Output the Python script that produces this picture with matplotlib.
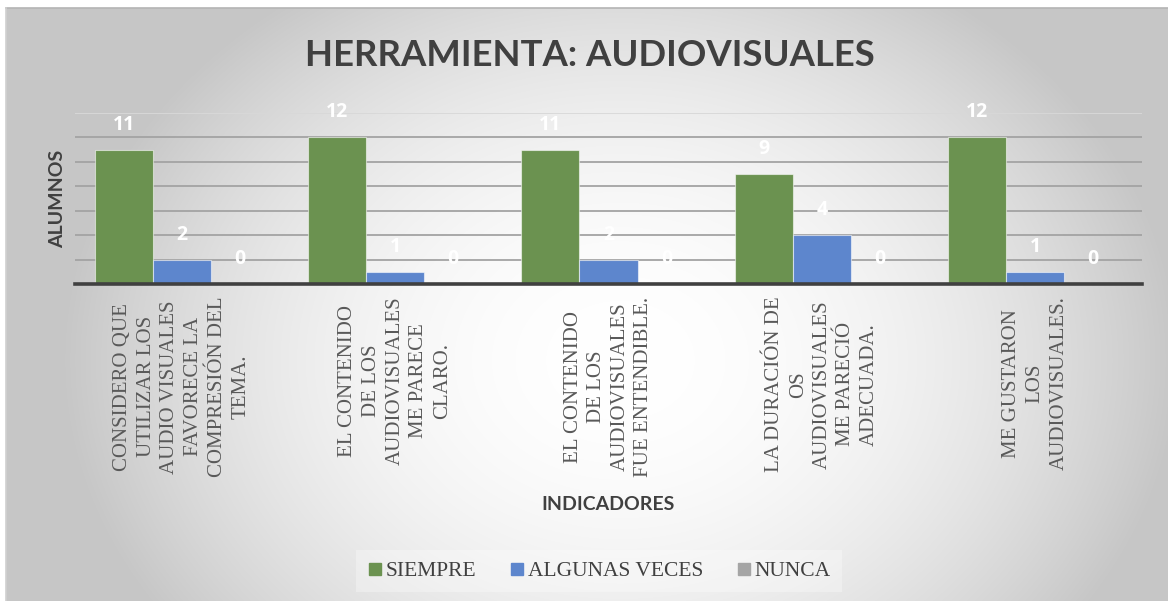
import numpy as np
import matplotlib
matplotlib.use("Agg")
import matplotlib.pyplot as plt
from matplotlib.lines import Line2D

# ---- data ----
categories = [
    "CONSIDERO QUE\nUTILIZAR LOS\nAUDIO VISUALES\nFAVORECE LA\nCOMPRESIÓN DEL\nTEMA.",
    "EL CONTENIDO\nDE LOS\nAUDIOVISUALES\nME PARECE\nCLARO.",
    "EL CONTENIDO\nDE LOS\nAUDIOVISUALES\nFUE ENTENDIBLE.",
    "LA DURACIÓN DE\nOS\nAUDIOVISUALES\nME PARECIÓ\nADECUADA.",
    "ME GUSTARON\nLOS\nAUDIOVISUALES.",
]
series_names = ["SIEMPRE", "ALGUNAS VECES", "NUNCA"]
siempre = [11, 12, 11, 9, 12]
algunas_veces = [2, 1, 2, 4, 1]
nunca = [0, 0, 0, 0, 0]
series_values = [siempre, algunas_veces, nunca]
colors = ["#6b9250", "#5d86cd", "#a5a5a5"]
title = "HERRAMIENTA: AUDIOVISUALES"
y_label = "ALUMNOS"
x_label = "INDICADORES"

W, H = 1168, 601
fig = plt.figure(figsize=(W / 100, H / 100), dpi=100)
fig.patch.set_facecolor("white")

# background gradient
bg = fig.add_axes([6 / W, 0, 1 - 6 / W, 1 - 8 / H], zorder=-10)
gx = np.arange(6, W)
gy = np.arange(8, H)
X, Y = np.meshgrid(gx, gy)
r = np.sqrt(((X - 620) / 560.0) ** 2 + ((Y - 360) / 450.0) ** 2)
r = np.clip(r, 0, 1)
val = (255 - 57 * r ** 2) / 255.0
img = np.dstack([val, val, val])
bg.imshow(img, aspect="auto", extent=[0, 1, 0, 1], interpolation="bilinear")
bg.set_axis_off()
bg.plot([0, 1], [1, 1], color="#b4b4b4", lw=1.2, transform=bg.transAxes, clip_on=False)
bg.plot([0, 0], [0, 1], color="#d0d0d0", lw=1.2, transform=bg.transAxes, clip_on=False)

# main axes
left, right = 75 / W, 1142 / W
bottom, top = 1 - 284 / H, 1 - 113 / H
ax = fig.add_axes([left, bottom, right - left, top - bottom])
ax.set_facecolor("none")

x = np.arange(len(categories))
bw = 0.272
offsets = [-bw, 0, bw]
for vals, off, c, name in zip(series_values, offsets, colors, series_names):
    bars = ax.bar(x + off, vals, width=bw, color=c, edgecolor=(1, 1, 1, 0.55),
                  linewidth=0.8, zorder=3, label=name)
    for b, v in zip(bars, vals):
        ax.annotate(str(v), (b.get_x() + b.get_width() / 2, v),
                    xytext=(0, 18), textcoords="offset points",
                    ha="center", va="center", color="white",
                    fontsize=14, fontweight="bold", family="Open Sans", zorder=5)

ax.set_xlim(-0.5, len(categories) - 0.5)
ax.set_ylim(0, 14)
ax.set_yticks(np.arange(0, 15, 2))
ax.yaxis.grid(True, color="#a3a3a3", linewidth=1.3, zorder=0)
gl = ax.yaxis.get_gridlines()
gl[-1].set_color("#d8d8d8")
ax.tick_params(axis="y", length=0, labelleft=False)
for s in ["top", "right", "left"]:
    ax.spines[s].set_visible(False)
ax.spines["bottom"].set_color("#404040")
ax.spines["bottom"].set_linewidth(2.6)
ax.spines["bottom"].set_zorder(4)

ax.set_xticks(x)
ax.set_xticklabels(categories, rotation=90, fontsize=15, family="Liberation Serif",
                   color="#595959", linespacing=1.33)
for lbl in ax.get_xticklabels():
    lbl.set_multialignment("center")
ax.tick_params(axis="x", length=0, pad=9)

fig.text(590 / W, 1 - 55 / H, title, ha="center", va="center", fontsize=26.3,
         fontweight="bold", family="Lato", color="#404040")
fig.text(58 / W, 1 - 199 / H, y_label, ha="center", va="center", rotation=90,
         fontsize=14, fontweight="bold", family="Lato", color="#404040")
fig.text(608 / W, 1 - 505 / H, x_label, ha="center", va="center",
         fontsize=14, fontweight="bold", family="Lato", color="#404040")

handles = [Line2D([], [], marker="s", linestyle="none", markersize=8,
                  markerfacecolor=c, markeredgecolor=c) for c in colors]
leg = fig.legend(handles, series_names, loc="center", bbox_to_anchor=(599 / W, 1 - 571 / H),
                 ncol=3, frameon=True, prop={"family": "Liberation Serif", "size": 15.5},
                 handlelength=0.7, handletextpad=0.15, columnspacing=1.55,
                 borderpad=0.5)
leg.get_frame().set_facecolor("white")
leg.get_frame().set_alpha(0.3)
leg.get_frame().set_edgecolor("none")
leg.get_frame().set_boxstyle("square", pad=0)
for t in leg.get_texts():
    t.set_color("#404040")

fig.savefig("out.png", dpi=100)
